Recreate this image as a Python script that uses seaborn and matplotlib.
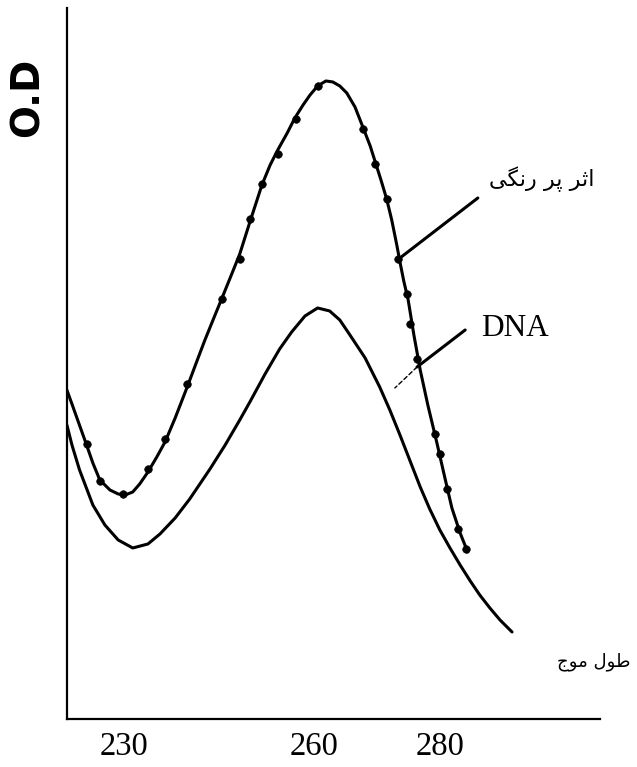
import numpy as np
import pandas as pd
import seaborn as sns
import matplotlib.pyplot as plt

# wavelength (nm) and optical density
heated_nm = [221.0, 221.8, 222.7, 224.0, 225.1, 226.2, 227.8, 229.1, 230.2, 231.4,
             232.5, 233.8, 235.2, 236.5, 238.1, 240.0, 241.6, 242.8, 244.4, 245.5,
             247.1, 248.3, 249.9, 251.8, 253.1, 254.3, 255.8, 257.0, 258.3, 259.4,
             260.6, 261.9, 263.0, 264.1, 265.2, 266.5, 267.8, 268.9, 269.7, 270.6,
             271.5, 272.3, 273.1, 273.6, 274.2, 274.9, 275.8, 276.8, 278.0, 279.4,
             280.7, 281.8, 283.1, 284.3]
heated_od = [0.658, 0.630, 0.598, 0.552, 0.512, 0.478, 0.458, 0.450, 0.448, 0.454,
             0.470, 0.494, 0.524, 0.554, 0.602, 0.664, 0.718, 0.758, 0.808, 0.842,
             0.892, 0.930, 0.994, 1.068, 1.108, 1.138, 1.172, 1.202, 1.228, 1.248,
             1.266, 1.276, 1.274, 1.266, 1.252, 1.224, 1.182, 1.146, 1.114, 1.078,
             1.040, 0.998, 0.948, 0.914, 0.876, 0.838, 0.768, 0.698, 0.628, 0.554,
             0.482, 0.422, 0.372, 0.334]

dots_nm = [224.2, 226.2, 229.8, 233.8, 236.5, 240.0, 245.5, 248.3, 249.9, 251.8,
           254.3, 257.2, 260.6, 267.8, 269.7, 271.5, 273.3, 274.7, 275.2, 276.3,
           279.1, 279.9, 281.0, 282.8, 284.0]
dots_od = [0.55, 0.475, 0.45, 0.50, 0.56, 0.67, 0.84, 0.92, 1.00, 1.07,
           1.13, 1.20, 1.265, 1.18, 1.11, 1.04, 0.92, 0.85, 0.79, 0.72,
           0.57, 0.53, 0.46, 0.38, 0.34]

dna_nm = [221.0, 221.8, 223.0, 225.1, 227.0, 229.1, 231.4, 233.8, 235.7, 238.1,
          240.4, 243.6, 246.0, 248.3, 249.9, 252.3, 254.6, 256.5, 258.6, 260.6,
          262.5, 264.1, 265.7, 268.1, 270.4, 272.0, 273.6, 275.2, 276.8, 278.3,
          279.9, 281.5, 283.1, 284.7, 286.2, 287.8, 289.4, 291.3]
dna_od = [0.588, 0.548, 0.498, 0.428, 0.388, 0.358, 0.342, 0.350, 0.370, 0.402,
          0.440, 0.500, 0.548, 0.598, 0.634, 0.690, 0.740, 0.774, 0.806, 0.822,
          0.816, 0.798, 0.768, 0.722, 0.664, 0.618, 0.568, 0.516, 0.464, 0.420,
          0.378, 0.342, 0.308, 0.276, 0.248, 0.222, 0.198, 0.174]

ticks = [230, 260, 280]

# persian labels, pre-shaped (visual order) since matplotlib has no bidi
label_hyper = "\uFBFD\uFB95\uFEE7\uFEAD \uFEAE\uFB58 \uFEAE\uFE9B\uFE8D"  # اثر پر رنگی
label_wave = "\uFE9D\uFEEE\uFEE3 \uFEDD\uFEEE\uFEC3"  # طول موج

sns.set_style("white")
plt.rcParams["text.color"] = "black"
plt.rcParams["xtick.color"] = "black"
plt.rcParams["xtick.labelcolor"] = "black"

fig = plt.figure(figsize=(6.37, 7.67), dpi=100)
ax = fig.add_axes([0.105, 0.0626, 0.837, 0.927])

sns.lineplot(x=heated_nm, y=heated_od, sort=False, color="black", lw=2.2, ax=ax)
sns.scatterplot(x=dots_nm, y=dots_od, color="black", s=30, edgecolor="black", ax=ax)
sns.lineplot(x=dna_nm, y=dna_od, sort=False, color="black", lw=2.2, ax=ax)

ax.set_xlim(221.0, 305.2)
ax.set_ylim(0, 1.422)
ax.set_xticks(ticks)
ax.set_xticklabels([str(t) for t in ticks], family="Liberation Serif", fontsize=23.5,
                   color="black")
ax.set_yticks([])
ax.tick_params(axis="x", direction="in", length=8, width=1.5, pad=9, color="black")
for s in ["top", "right"]:
    ax.spines[s].set_visible(False)
for s in ["left", "bottom"]:
    ax.spines[s].set_color("black")
    ax.spines[s].set_linewidth(1.6)
ax.set_xlabel("")
ax.set_ylabel("")

# pointer lines
ax.annotate("", xy=(273.6, 0.922), xytext=(285.9, 1.042),
            arrowprops=dict(arrowstyle="-", lw=2.2, color="black", shrinkA=0, shrinkB=0))
ax.annotate("", xy=(276.3, 0.704), xytext=(283.9, 0.778),
            arrowprops=dict(arrowstyle="-", lw=2.2, color="black", shrinkA=0, shrinkB=0))
ax.annotate("", xy=(272.8, 0.662), xytext=(276.3, 0.704),
            arrowprops=dict(arrowstyle="-", lw=1.0, color="black", ls=(0, (3, 2)),
                            shrinkA=0, shrinkB=0))

fig.text(489 / 637, 1 - 179 / 767, label_hyper, family=["DejaVu Sans"], fontsize=16,
         ha="left", va="center", color="black")
fig.text(481 / 637, 1 - 328 / 767, "DNA", family="Liberation Serif", fontsize=22.5,
         ha="left", va="center", color="black")
fig.text(557 / 637, 1 - 662 / 767, label_wave, family=["DejaVu Sans"], fontsize=13,
         ha="left", va="center", color="black")
fig.text(28 / 637, 1 - 97 / 767, "O.D", family="DejaVu Sans", fontweight="bold",
         fontsize=28, rotation=90, ha="center", va="center", color="black")

fig.savefig("out.png", dpi=100)
